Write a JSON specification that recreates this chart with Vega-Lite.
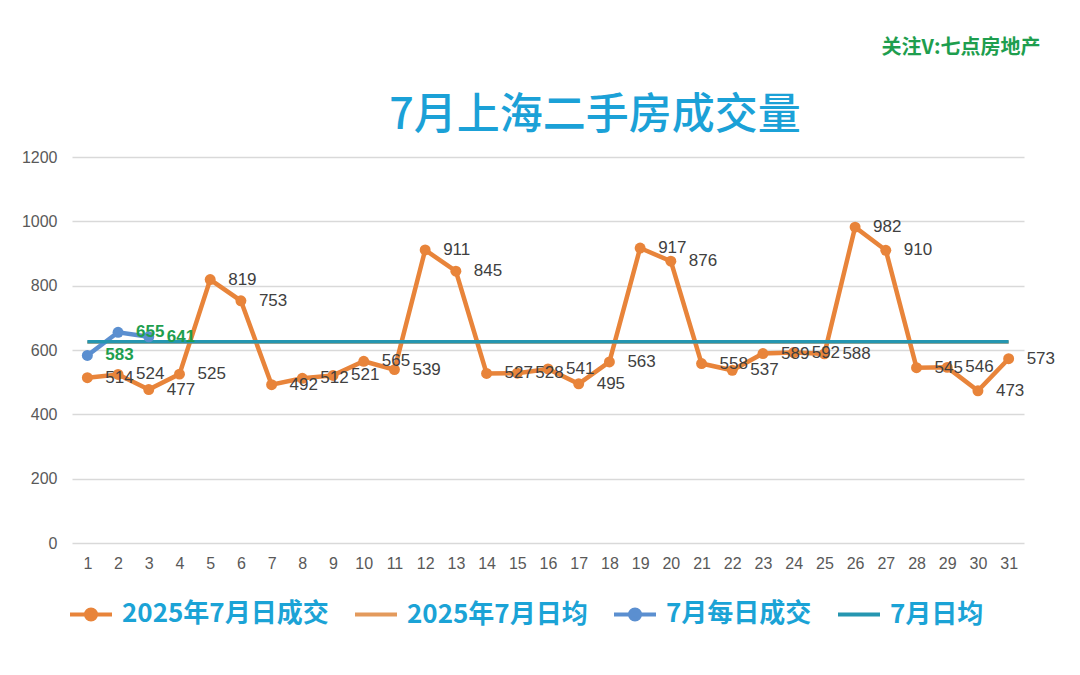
{
  "$schema": "https://vega.github.io/schema/vega-lite/v6.json",
  "width": 952,
  "height": 386,
  "autosize": {"type": "none"},
  "padding": {"left": 72, "top": 157, "right": 56, "bottom": 132},
  "background": "#ffffff",
  "title": {
    "text": "7月上海二手房成交量",
    "anchor": "middle",
    "dx": 47,
    "offset": -101,
    "font": "Noto Sans CJK SC",
    "fontSize": 43,
    "fontWeight": 500,
    "color": "#1BA1D7"
  },
  "data": {
    "values": [
      {"day": 1, "value": 514, "series": "2025年7月日成交"},
      {"day": 2, "value": 524, "series": "2025年7月日成交"},
      {"day": 3, "value": 477, "series": "2025年7月日成交"},
      {"day": 4, "value": 525, "series": "2025年7月日成交"},
      {"day": 5, "value": 819, "series": "2025年7月日成交"},
      {"day": 6, "value": 753, "series": "2025年7月日成交"},
      {"day": 7, "value": 492, "series": "2025年7月日成交"},
      {"day": 8, "value": 512, "series": "2025年7月日成交"},
      {"day": 9, "value": 521, "series": "2025年7月日成交"},
      {"day": 10, "value": 565, "series": "2025年7月日成交"},
      {"day": 11, "value": 539, "series": "2025年7月日成交"},
      {"day": 12, "value": 911, "series": "2025年7月日成交"},
      {"day": 13, "value": 845, "series": "2025年7月日成交"},
      {"day": 14, "value": 527, "series": "2025年7月日成交"},
      {"day": 15, "value": 528, "series": "2025年7月日成交"},
      {"day": 16, "value": 541, "series": "2025年7月日成交"},
      {"day": 17, "value": 495, "series": "2025年7月日成交"},
      {"day": 18, "value": 563, "series": "2025年7月日成交"},
      {"day": 19, "value": 917, "series": "2025年7月日成交"},
      {"day": 20, "value": 876, "series": "2025年7月日成交"},
      {"day": 21, "value": 558, "series": "2025年7月日成交"},
      {"day": 22, "value": 537, "series": "2025年7月日成交"},
      {"day": 23, "value": 589, "series": "2025年7月日成交"},
      {"day": 24, "value": 592, "series": "2025年7月日成交"},
      {"day": 25, "value": 588, "series": "2025年7月日成交"},
      {"day": 26, "value": 982, "series": "2025年7月日成交"},
      {"day": 27, "value": 910, "series": "2025年7月日成交"},
      {"day": 28, "value": 545, "series": "2025年7月日成交"},
      {"day": 29, "value": 546, "series": "2025年7月日成交"},
      {"day": 30, "value": 473, "series": "2025年7月日成交"},
      {"day": 31, "value": 573, "series": "2025年7月日成交"},
      {"day": 1, "value": 624, "series": "2025年7月日均"},
      {"day": 31, "value": 624, "series": "2025年7月日均"},
      {"day": 1, "value": 583, "series": "7月每日成交"},
      {"day": 2, "value": 655, "series": "7月每日成交"},
      {"day": 3, "value": 641, "series": "7月每日成交"},
      {"day": 1, "value": 626, "series": "7月日均"},
      {"day": 31, "value": 626, "series": "7月日均"}
    ]
  },
  "encoding": {
    "x": {
      "field": "day",
      "type": "ordinal",
      "scale": {"type": "point", "padding": 0.5},
      "axis": {
        "title": "关注V:七点房地产",
        "titleX": 968,
        "titleY": -496,
        "titleAlign": "right",
        "titleBaseline": "middle",
        "titleAngle": 0,
        "titleFont": "Noto Sans CJK SC",
        "titleFontSize": 20,
        "titleFontWeight": "bold",
        "titleColor": "#1E9E4E",
        "labelAngle": 0,
        "labelFont": "Liberation Sans",
        "labelFontSize": 16,
        "labelColor": "#595959",
        "labelPadding": 12,
        "ticks": false,
        "domain": false,
        "grid": false
      }
    },
    "y": {
      "field": "value",
      "type": "quantitative",
      "scale": {"domain": [0, 1200], "nice": false},
      "axis": {
        "title": null,
        "values": [0, 200, 400, 600, 800, 1000, 1200],
        "format": "d",
        "labelFont": "Liberation Sans",
        "labelFontSize": 16,
        "labelColor": "#595959",
        "labelPadding": 15,
        "ticks": false,
        "domain": false,
        "grid": true,
        "gridColor": "#d9d9d9",
        "gridWidth": 1.5
      }
    },
    "color": {
      "field": "series",
      "type": "nominal",
      "scale": {
        "domain": ["2025年7月日成交", "2025年7月日均", "7月每日成交", "7月日均"],
        "range": ["#E8843A", "#E39A5C", "#5B8FD0", "#2596B0"]
      },
      "legend": {
        "title": null,
        "orient": "none",
        "legendX": -4,
        "legendY": 434,
        "direction": "horizontal",
        "columns": 4,
        "padding": 0,
        "columnPadding": 18,
        "symbolSize": 1764,
        "symbolStrokeWidth": 4,
        "labelOffset": 8,
        "labelLimit": 400,
        "labelFont": "Noto Sans CJK SC",
        "labelFontSize": 26,
        "labelFontWeight": "bold",
        "labelColor": "#1BA3D6",
        "encode": {
          "symbols": {
            "update": {
              "shape": {"signal": "datum.value === '2025年7月日成交' || datum.value === '7月每日成交' ? 'M-1,0H1M0.24,0A0.24,0.24 0 1,1 -0.24,0A0.24,0.24 0 1,1 0.24,0Z' : 'M-1,0H1'"},
              "fill": {"scale": "color", "field": "value"},
              "stroke": {"scale": "color", "field": "value"},
              "strokeWidth": {"value": 4}
            }
          }
        }
      }
    }
  },
  "layer": [
    {
      "transform": [{"filter": "datum.series === '2025年7月日均'"}],
      "mark": {"type": "line", "strokeWidth": 3}
    },
    {
      "transform": [{"filter": "datum.series === '2025年7月日成交'"}],
      "mark": {"type": "line", "strokeWidth": 4.5}
    },
    {
      "transform": [{"filter": "datum.series === '7月每日成交'"}],
      "mark": {"type": "line", "strokeWidth": 4.5}
    },
    {
      "transform": [{"filter": "datum.series === '7月日均'"}],
      "mark": {"type": "line", "strokeWidth": 3.5}
    },
    {
      "transform": [{"filter": "datum.series === '2025年7月日成交' || datum.series === '7月每日成交'"}],
      "mark": {"type": "point", "filled": true, "size": 120, "opacity": 1}
    },
    {
      "transform": [{"filter": "datum.series === '2025年7月日成交'"}],
      "mark": {"type": "text", "align": "left", "baseline": "middle", "dx": 18, "font": "Liberation Sans", "fontSize": 17},
      "encoding": {
        "text": {"field": "value", "type": "quantitative"},
        "color": {"value": "#404040"}
      }
    },
    {
      "transform": [{"filter": "datum.series === '7月每日成交'"}],
      "mark": {"type": "text", "align": "left", "baseline": "middle", "dx": 18, "font": "Liberation Sans", "fontSize": 17, "fontWeight": "bold"},
      "encoding": {
        "text": {"field": "value", "type": "quantitative"},
        "color": {"value": "#1E9E4E"}
      }
    }
  ],
  "config": {
    "view": {"stroke": null}
  }
}
